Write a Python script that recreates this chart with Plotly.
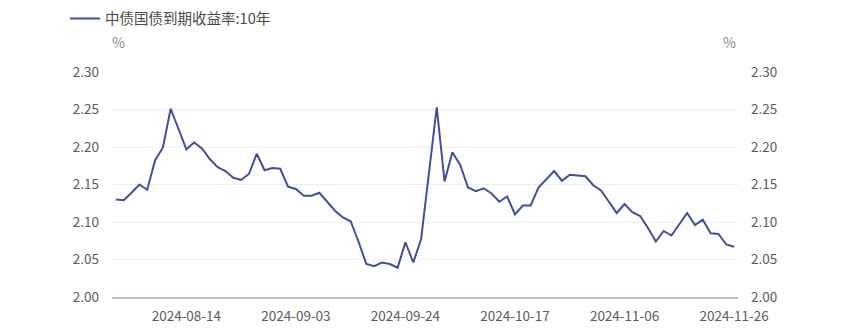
import plotly.graph_objects as go

# Trading days, 2024-08-01 .. 2024-11-26 (China interbank calendar)
dates = [
    "2024-08-01", "2024-08-02", "2024-08-05", "2024-08-06", "2024-08-07", "2024-08-08",
    "2024-08-09", "2024-08-12", "2024-08-13", "2024-08-14", "2024-08-15", "2024-08-16",
    "2024-08-19", "2024-08-20", "2024-08-21", "2024-08-22", "2024-08-23", "2024-08-26",
    "2024-08-27", "2024-08-28", "2024-08-29", "2024-08-30",
    "2024-09-02", "2024-09-03", "2024-09-04", "2024-09-05", "2024-09-06", "2024-09-09",
    "2024-09-10", "2024-09-11", "2024-09-12", "2024-09-13", "2024-09-14", "2024-09-18",
    "2024-09-19", "2024-09-20", "2024-09-23", "2024-09-24", "2024-09-25", "2024-09-26",
    "2024-09-27", "2024-09-29", "2024-09-30",
    "2024-10-08", "2024-10-09", "2024-10-10", "2024-10-11", "2024-10-12", "2024-10-14",
    "2024-10-15", "2024-10-16", "2024-10-17", "2024-10-18", "2024-10-21", "2024-10-22",
    "2024-10-23", "2024-10-24", "2024-10-25", "2024-10-28", "2024-10-29", "2024-10-30",
    "2024-10-31",
    "2024-11-01", "2024-11-04", "2024-11-05", "2024-11-06", "2024-11-07", "2024-11-08",
    "2024-11-11", "2024-11-12", "2024-11-13", "2024-11-14", "2024-11-15", "2024-11-18",
    "2024-11-19", "2024-11-20", "2024-11-21", "2024-11-22", "2024-11-25", "2024-11-26",
]

# 中债国债到期收益率:10年 (%)
yield_10y = [
    2.130, 2.129, 2.139, 2.150, 2.143, 2.182, 2.199, 2.251, 2.224, 2.197,
    2.206, 2.198, 2.184, 2.173, 2.168, 2.159, 2.156, 2.164, 2.191, 2.169,
    2.172, 2.171, 2.147, 2.144, 2.135, 2.135, 2.139, 2.127, 2.115, 2.106,
    2.101, 2.074, 2.044, 2.041, 2.046, 2.044, 2.039, 2.073, 2.046, 2.077,
    2.165, 2.253, 2.154, 2.193, 2.176, 2.146, 2.141, 2.145, 2.138, 2.127,
    2.134, 2.110, 2.122, 2.122, 2.146, 2.157, 2.168, 2.155, 2.163, 2.162,
    2.161, 2.149, 2.142, 2.127, 2.112, 2.124, 2.113, 2.108, 2.092, 2.074,
    2.088, 2.082, 2.097, 2.112, 2.096, 2.103, 2.085, 2.084, 2.070, 2.067,
]

x_ticks = ["2024-08-14", "2024-09-03", "2024-09-24", "2024-10-17", "2024-11-06", "2024-11-26"]
series_name = "中债国债到期收益率:10年"
unit = "%"

FONT = "Noto Sans CJK SC"
LINE = "#3f4f9b"
GRID = "#eceef5"
TICK = "#5a5a5a"

fig = go.Figure()
fig.add_trace(go.Scatter(
    x=dates, y=yield_10y, name=series_name, mode="lines",
    line=dict(color=LINE, width=2),
))
# mirror trace so the right-hand axis carries the same scale
fig.add_trace(go.Scatter(
    x=dates, y=yield_10y, yaxis="y2", mode="lines", showlegend=False,
    hoverinfo="skip", line=dict(color="rgba(0,0,0,0)", width=0),
))

yaxis_common = dict(
    range=[2.0, 2.3], dtick=0.05, tick0=2.0, tickformat=".2f",
    showgrid=True, gridcolor=GRID, gridwidth=1, zeroline=False,
    showline=False, ticks="", ticklabelstandoff=12,
    tickfont=dict(family=FONT, size=13.5, color=TICK),
)

fig.update_layout(
    width=851, height=333,
    margin=dict(l=112, r=113, t=72, b=36, autoexpand=False),
    plot_bgcolor="white", paper_bgcolor="white",
    font=dict(family=FONT),
    xaxis=dict(
        type="category", range=[-0.5, len(dates) - 0.5],
        tickmode="array", tickvals=x_ticks, ticktext=x_ticks,
        showgrid=False, showline=True, linecolor="#b4bbd6", linewidth=2,
        ticks="", ticklabelstandoff=6,
        tickfont=dict(family=FONT, size=13.5, color=TICK),
    ),
    yaxis=dict(side="left", **yaxis_common),
    yaxis2=dict(side="right", overlaying="y", **yaxis_common),
    showlegend=True,
    legend=dict(
        orientation="h", x=-0.075, y=1.237, xanchor="left", yanchor="middle",
        font=dict(family=FONT, size=14.5, color="#4a4a4a"),
        bgcolor="rgba(0,0,0,0)", itemwidth=30,
    ),
    annotations=[
        dict(text=unit, xref="paper", yref="paper", x=0.011, y=1.133,
             xanchor="center", yanchor="middle", showarrow=False,
             font=dict(family=FONT, size=14, color="#8a8a8a")),
        dict(text=unit, xref="paper", yref="paper", x=0.987, y=1.133,
             xanchor="center", yanchor="middle", showarrow=False,
             font=dict(family=FONT, size=14, color="#8a8a8a")),
    ],
)

fig.write_html("out.html")
